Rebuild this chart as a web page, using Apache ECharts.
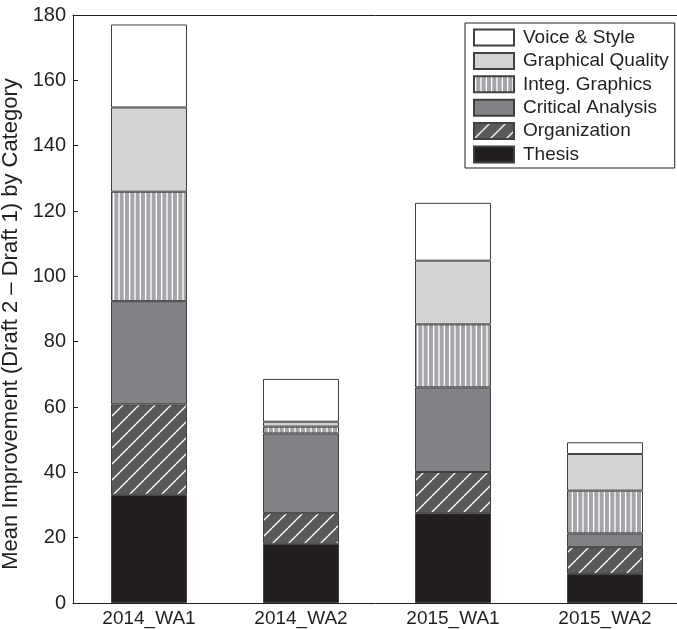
<!DOCTYPE html>
<html>
<head>
<meta charset="utf-8">
<script src="https://cdn.jsdelivr.net/npm/echarts@6/dist/echarts.min.js"></script>
<style>
html,body{margin:0;padding:0;background:#fff;}
#chart{width:677px;height:630px;}
</style>
</head>
<body>
<div id="chart"></div>
<script>
const categories = ['2014_WA1', '2014_WA2', '2015_WA1', '2015_WA2'];
const thesis = [33.1, 18.1, 27.5, 8.9];
const organization = [27.7, 9.4, 12.6, 8.2];
const criticalAnalysis = [31.6, 24.4, 25.9, 4.2];
const integGraphics = [33.5, 2.1, 19.3, 13.1];
const graphicalQuality = [25.8, 1.5, 19.5, 11.2];
const voiceStyle = [25.4, 13.1, 17.7, 3.6];
const seriesNames = ['Thesis', 'Organization', 'Critical Analysis', 'Integ. Graphics', 'Graphical Quality', 'Voice & Style'];
const yTicks = [0, 20, 40, 60, 80, 100, 120, 140, 160, 180];

function stripePattern() {
  const c = document.createElement('canvas');
  c.width = 16; c.height = 16;
  const ctx = c.getContext('2d');
  ctx.fillStyle = '#a3a5a8';
  ctx.fillRect(0, 0, 16, 16);
  ctx.fillStyle = '#ffffff';
  [1, 6.33, 11.67].forEach(x => ctx.fillRect(x, 0, 1.3, 16));
  return c;
}
function diagPattern() {
  const c = document.createElement('canvas');
  c.width = 16; c.height = 16;
  const ctx = c.getContext('2d');
  ctx.fillStyle = '#58595b';
  ctx.fillRect(0, 0, 16, 16);
  ctx.strokeStyle = '#ffffff';
  ctx.lineWidth = 1.3;
  [-16, 0, 16].forEach(o => {
    ctx.beginPath();
    ctx.moveTo(o, 16);
    ctx.lineTo(o + 16, 0);
    ctx.stroke();
  });
  return c;
}

const fills = [
  '#231f20',
  { image: diagPattern(), repeat: 'repeat' },
  '#808285',
  { image: stripePattern(), repeat: 'repeat' },
  '#d1d3d4',
  '#ffffff'
];
const values = [thesis, organization, criticalAnalysis, integGraphics, graphicalQuality, voiceStyle];
const font = '"Liberation Sans", Arial, Helvetica, sans-serif';
const txt = '#231f20';

const chart = echarts.init(document.getElementById('chart'), null, { renderer: 'canvas' });
chart.setOption({
  backgroundColor: '#ffffff',
  animation: false,
  textStyle: { fontFamily: font, color: txt },
  grid: { left: 73, top: 15, width: 608, height: 588, containLabel: false, outerBoundsMode: 'none' },
  legend: {
    orient: 'vertical',
    left: 465, top: 23,
    data: seriesNames.slice().reverse(),
    icon: 'rect',
    itemWidth: 40, itemHeight: 16, itemGap: 4.4,
    padding: [5, 6, 4, 8],
    borderColor: '#231f20', borderWidth: 1,
    backgroundColor: '#ffffff',
    selectedMode: false,
    textStyle: { fontSize: 19, color: txt, fontFamily: font, padding: [0, 0, 0, 4] }
  },
  xAxis: [{
    type: 'category',
    data: categories,
    position: 'bottom',
    axisLine: { lineStyle: { color: '#231f20', width: 1 } },
    axisTick: { inside: true, alignWithLabel: true, length: 5, lineStyle: { color: '#231f20' } },
    axisLabel: { fontSize: 19, color: txt, margin: 6, fontFamily: font },
    splitLine: { show: false }
  }, {
    type: 'category',
    data: categories,
    position: 'top',
    axisLine: { lineStyle: { color: '#231f20', width: 1 } },
    axisTick: { inside: true, alignWithLabel: true, length: 5, lineStyle: { color: '#231f20' } },
    axisLabel: { show: false },
    splitLine: { show: false }
  }],
  yAxis: {
    type: 'value',
    min: yTicks[0], max: yTicks[yTicks.length - 1], interval: 20,
    name: 'Mean Improvement (Draft 2 \u2013 Draft 1) by Category',
    nameLocation: 'middle',
    nameGap: 37,
    nameTextStyle: { fontSize: 22, color: txt, fontFamily: font, padding: [0, 30, 0, 0] },
    axisLine: { show: true, lineStyle: { color: '#231f20', width: 1 } },
    axisTick: { show: true, inside: true, length: 5, lineStyle: { color: '#231f20' } },
    axisLabel: { fontSize: 20, color: txt, margin: 7, fontFamily: font },
    splitLine: { show: false }
  },
  series: seriesNames.map((name, i) => ({
    name: name,
    type: 'bar',
    stack: 'total',
    barWidth: 76,
    data: values[i],
    itemStyle: { color: fills[i], borderColor: '#404041', borderWidth: 1 }
  }))
});
</script>
</body>
</html>
